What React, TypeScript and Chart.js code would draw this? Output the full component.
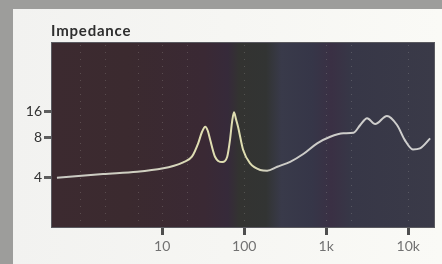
import React, { useEffect, useRef } from "react";
import { Chart, registerables, LinearScale } from "chart.js";

// ---- data ----
const FREQ_HZ = [0.52, 1.9, 4.95, 10.3, 13.6, 18, 23, 27.5, 30.5, 33.5, 36, 38.5, 44, 54, 62, 67, 71, 75, 79, 84, 97, 118, 157, 190, 253, 363, 525, 775, 1120, 1620, 2150, 2600, 3150, 3950, 5500, 7300, 9100, 11400, 13900, 18500];
const IMPEDANCE_OHM = [3.95, 4.21, 4.38, 4.65, 4.84, 5.16, 5.69, 7.21, 9.19, 10.66, 9.45, 7.59, 5.69, 5.19, 5.69, 7.59, 12.1, 15.87, 13.3, 10.66, 6.39, 5.07, 4.52, 4.46, 4.78, 5.21, 5.96, 7.17, 8.07, 8.86, 9.01, 11.16, 13.44, 11.47, 14.32, 11.16, 7.59, 6.46, 6.58, 7.82];
const X_TICKS = [10, 100, 1000, 10000];
const X_TICK_LABELS = ["10", "100", "1k", "10k"];
const X_DOTTED = [1, 2, 5, 10, 20, 100, 1000, 2000, 10000];
const Y_TICKS = [4, 8, 16];
// fractional height of the printed 4 / 8 / 16 marks on the original axis
const Y_ANCHOR_FRAC = [0.274, 0.489, 0.624];

class ImpedanceScale extends LinearScale {
  static id = "impedance";
  static defaults = {};
  toFrac(v: number) {
    const l = Math.log2(v);
    const a = Y_TICKS.map((t) => Math.log2(t));
    let i = 0;
    if (l > a[1]) i = 1;
    const slope = (Y_ANCHOR_FRAC[i + 1] - Y_ANCHOR_FRAC[i]) / (a[i + 1] - a[i]);
    return Y_ANCHOR_FRAC[i] + (l - a[i]) * slope;
  }
  getPixelForValue(v: number) {
    return this.getPixelForDecimal(this.toFrac(v));
  }
  getValueForPixel(p: number) {
    const d = this.getDecimalForPixel(p);
    const a = Y_TICKS.map((t) => Math.log2(t));
    let i = d > Y_ANCHOR_FRAC[1] ? 1 : 0;
    const slope = (Y_ANCHOR_FRAC[i + 1] - Y_ANCHOR_FRAC[i]) / (a[i + 1] - a[i]);
    return Math.pow(2, a[i] + (d - Y_ANCHOR_FRAC[i]) / slope);
  }
}

Chart.register(...registerables, ImpedanceScale as any);

const decorPlugin = {
  id: "decor",
  beforeDraw(chart: any) {
    const { ctx, chartArea: ca, width, height } = chart;
    ctx.save();
    // page
    ctx.fillStyle = "#9d9d9b";
    ctx.fillRect(0, 0, width, height);
    const pg = ctx.createLinearGradient(13, 0, width, 0);
    pg.addColorStop(0, "#f2f2f0");
    pg.addColorStop(1, "#fafaf6");
    ctx.fillStyle = pg;
    ctx.fillRect(13, 9, width - 13, height - 9);
    // plot background bands
    const g = ctx.createLinearGradient(ca.left, 0, ca.right, 0);
    g.addColorStop(0, "#3c2a30");
    g.addColorStop(0.2, "#3b2a2f");
    g.addColorStop(0.4, "#3a2934");
    g.addColorStop(0.46, "#362a3a");
    g.addColorStop(0.49, "#333331");
    g.addColorStop(0.56, "#323433");
    g.addColorStop(0.6, "#393a4a");
    g.addColorStop(0.68, "#363648");
    g.addColorStop(0.73, "#3a3044");
    g.addColorStop(0.78, "#373747");
    g.addColorStop(1, "#3a3a48");
    ctx.fillStyle = g;
    ctx.fillRect(ca.left, ca.top, ca.right - ca.left, ca.bottom - ca.top);
    ctx.strokeStyle = "#5a5a60";
    ctx.lineWidth = 1;
    ctx.strokeRect(ca.left + 0.5, ca.top + 0.5, ca.right - ca.left - 1, ca.bottom - ca.top - 1);
    // dotted grid
    const xs = chart.scales.x;
    ctx.strokeStyle = "rgba(200,200,190,0.22)";
    ctx.setLineDash([1, 6]);
    X_DOTTED.forEach((f) => {
      const px = Math.round(xs.getPixelForValue(f)) + 0.5;
      ctx.beginPath();
      ctx.moveTo(px, ca.top + 3);
      ctx.lineTo(px, ca.bottom - 3);
      ctx.stroke();
    });
    ctx.setLineDash([]);
    // title
    ctx.fillStyle = "#2e2e2e";
    ctx.font = "bold 15px Lato, 'Open Sans', sans-serif";
    try {
      ctx.letterSpacing = "0.8px";
    } catch (e) {}
    ctx.textBaseline = "alphabetic";
    ctx.textAlign = "left";
    ctx.fillText("Impedance", ca.left, ca.top - 6);
    ctx.restore();
  },
};

export default function App() {
  const ref = useRef<HTMLCanvasElement>(null);
  useEffect(() => {
    if (!ref.current) return;
    const chart = new Chart(ref.current, {
      type: "line",
      data: {
        datasets: [
          {
            data: FREQ_HZ.map((f, i) => ({ x: f, y: IMPEDANCE_OHM[i] })),
            borderColor: (c: any) => {
              const ca = c.chart.chartArea;
              if (!ca) return "#d0d0c8";
              const g = c.chart.ctx.createLinearGradient(ca.left, 0, ca.right, 0);
              g.addColorStop(0, "#c9c9c4");
              g.addColorStop(0.3, "#d2d2bf");
              g.addColorStop(0.38, "#e0dfb2");
              g.addColorStop(0.52, "#dedcb0");
              g.addColorStop(0.58, "#cccbc6");
              g.addColorStop(1, "#cfcfcf");
              return g;
            },
            borderWidth: 2,
            pointRadius: 0,
            cubicInterpolationMode: "monotone",
            fill: false,
          },
        ],
      },
      options: {
        animation: false,
        responsive: false,
        events: [],
        layout: { padding: { left: 0, right: 7, top: 42, bottom: 0 } },
        plugins: { legend: { display: false }, title: { display: false }, tooltip: { enabled: false } },
        scales: {
          x: {
            type: "logarithmic",
            min: 0.44,
            max: 21200,
            afterBuildTicks: (s: any) => {
              s.ticks = X_TICKS.map((v) => ({ value: v }));
            },
            afterFit: (s: any) => {
              s.height = 36;
            },
            grid: { drawOnChartArea: false, drawTicks: true, tickLength: 7, tickWidth: 3, tickColor: "#4e4e4e" },
            border: { display: false },
            ticks: {
              autoSkip: false,
              maxRotation: 0,
              padding: 3,
              color: "#727272",
              font: { family: "Lato, 'Open Sans', sans-serif", size: 14 },
              callback: (v: any) => {
                const i = X_TICKS.indexOf(Number(v));
                return i >= 0 ? X_TICK_LABELS[i] : "";
              },
            },
          },
          y: {
            type: "impedance" as any,
            min: 1,
            max: 100,
            afterBuildTicks: (s: any) => {
              s.ticks = Y_TICKS.map((v) => ({ value: v }));
            },
            afterFit: (s: any) => {
              s.width = 51;
            },
            grid: { drawOnChartArea: false, drawTicks: true, tickLength: 7, tickWidth: 3, tickColor: "#5e5e5e" },
            border: { display: false },
            ticks: {
              autoSkip: false,
              padding: 2,
              color: "#333333",
              font: { family: "Lato, 'Open Sans', sans-serif", size: 14 },
              callback: (v: any) => String(v),
            },
          },
        },
      },
      plugins: [decorPlugin],
    } as any);
    return () => chart.destroy();
  }, []);
  return (
    <div style={{ position: "fixed", left: 0, top: 0, width: 442, height: 264 }}>
      <canvas ref={ref} width={442} height={264} style={{ display: "block", width: 442, height: 264 }} />
    </div>
  );
}
